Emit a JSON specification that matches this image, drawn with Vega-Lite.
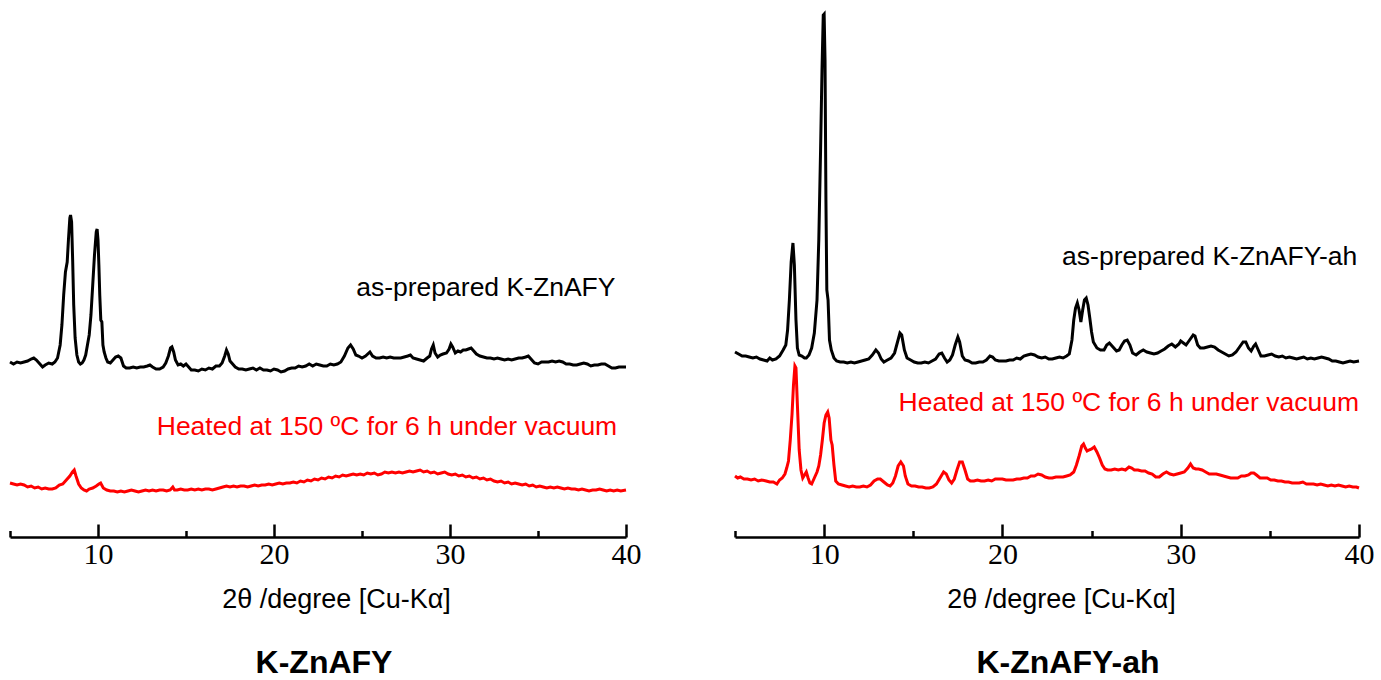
{
"$schema": "https://vega.github.io/schema/vega-lite/v6.json",
"padding": {"left": 4, "top": 7, "right": 0, "bottom": 0},
"background": "white",
"bounds": "flush",
"spacing": 109,
"config": {"view": {"stroke": null}},
"datasets": {
"LB": [{"x":5.0,"y":175},{"x":5.2,"y":173},{"x":5.4,"y":175},{"x":5.6,"y":174},{"x":5.8,"y":175},{"x":6.0,"y":176},{"x":6.2,"y":178},{"x":6.35,"y":179},{"x":6.5,"y":177},{"x":6.7,"y":173},{"x":6.85,"y":170},{"x":7.0,"y":172},{"x":7.2,"y":174},{"x":7.4,"y":173},{"x":7.55,"y":175},{"x":7.7,"y":179},{"x":7.85,"y":192},{"x":7.95,"y":212},{"x":8.05,"y":242},{"x":8.15,"y":265},{"x":8.25,"y":275},{"x":8.32,"y":297},{"x":8.4,"y":319},{"x":8.44,"y":322},{"x":8.5,"y":315},{"x":8.56,"y":277},{"x":8.62,"y":232},{"x":8.7,"y":199},{"x":8.8,"y":182},{"x":8.9,"y":175},{"x":9.0,"y":173},{"x":9.1,"y":174},{"x":9.2,"y":177},{"x":9.3,"y":182},{"x":9.4,"y":192},{"x":9.5,"y":202},{"x":9.6,"y":222},{"x":9.7,"y":252},{"x":9.8,"y":282},{"x":9.9,"y":305},{"x":9.95,"y":308},{"x":10.0,"y":297},{"x":10.05,"y":272},{"x":10.1,"y":242},{"x":10.16,"y":217},{"x":10.22,"y":215},{"x":10.28,"y":192},{"x":10.35,"y":185},{"x":10.45,"y":179},{"x":10.55,"y":175},{"x":10.7,"y":174},{"x":10.85,"y":177},{"x":11.0,"y":180},{"x":11.15,"y":181},{"x":11.3,"y":179},{"x":11.45,"y":171},{"x":11.6,"y":169},{"x":11.8,"y":169},{"x":12.0,"y":170},{"x":12.2,"y":169},{"x":12.4,"y":170},{"x":12.6,"y":170},{"x":12.8,"y":171},{"x":12.95,"y":172},{"x":13.1,"y":170},{"x":13.3,"y":168},{"x":13.5,"y":168},{"x":13.7,"y":170},{"x":13.85,"y":174},{"x":14.0,"y":181},{"x":14.12,"y":189},{"x":14.2,"y":190},{"x":14.3,"y":185},{"x":14.4,"y":177},{"x":14.55,"y":172},{"x":14.7,"y":173},{"x":14.85,"y":171},{"x":15.0,"y":173},{"x":15.15,"y":170},{"x":15.3,"y":167},{"x":15.5,"y":167},{"x":15.7,"y":166},{"x":15.9,"y":168},{"x":16.1,"y":167},{"x":16.3,"y":169},{"x":16.5,"y":168},{"x":16.7,"y":171},{"x":16.9,"y":171},{"x":17.05,"y":174},{"x":17.2,"y":181},{"x":17.3,"y":187},{"x":17.4,"y":183},{"x":17.5,"y":176},{"x":17.65,"y":173},{"x":17.8,"y":170},{"x":18.0,"y":168},{"x":18.2,"y":168},{"x":18.4,"y":167},{"x":18.6,"y":168},{"x":18.8,"y":169},{"x":19.0,"y":167},{"x":19.2,"y":169},{"x":19.4,"y":167},{"x":19.6,"y":167},{"x":19.8,"y":166},{"x":20.0,"y":168},{"x":20.2,"y":167},{"x":20.4,"y":165},{"x":20.6,"y":166},{"x":20.8,"y":168},{"x":21.0,"y":169},{"x":21.2,"y":169},{"x":21.4,"y":171},{"x":21.6,"y":170},{"x":21.8,"y":171},{"x":22.0,"y":173},{"x":22.2,"y":171},{"x":22.4,"y":173},{"x":22.6,"y":172},{"x":22.8,"y":171},{"x":23.0,"y":171},{"x":23.2,"y":173},{"x":23.4,"y":172},{"x":23.6,"y":173},{"x":23.8,"y":175},{"x":24.0,"y":181},{"x":24.2,"y":189},{"x":24.35,"y":192},{"x":24.5,"y":188},{"x":24.65,"y":182},{"x":24.8,"y":181},{"x":25.0,"y":179},{"x":25.2,"y":181},{"x":25.45,"y":185},{"x":25.6,"y":181},{"x":25.8,"y":179},{"x":26.0,"y":179},{"x":26.2,"y":180},{"x":26.4,"y":179},{"x":26.6,"y":180},{"x":26.8,"y":179},{"x":27.0,"y":179},{"x":27.2,"y":179},{"x":27.4,"y":180},{"x":27.6,"y":181},{"x":27.75,"y":182},{"x":27.9,"y":179},{"x":28.1,"y":178},{"x":28.3,"y":177},{"x":28.5,"y":176},{"x":28.7,"y":179},{"x":28.85,"y":181},{"x":28.95,"y":188},{"x":29.05,"y":192},{"x":29.15,"y":184},{"x":29.3,"y":180},{"x":29.45,"y":182},{"x":29.6,"y":183},{"x":29.8,"y":184},{"x":29.95,"y":188},{"x":30.05,"y":193},{"x":30.15,"y":190},{"x":30.3,"y":184},{"x":30.45,"y":186},{"x":30.6,"y":185},{"x":30.75,"y":187},{"x":30.9,"y":187},{"x":31.05,"y":188},{"x":31.2,"y":189},{"x":31.35,"y":186},{"x":31.5,"y":183},{"x":31.7,"y":181},{"x":31.9,"y":180},{"x":32.1,"y":179},{"x":32.3,"y":179},{"x":32.5,"y":178},{"x":32.7,"y":179},{"x":32.9,"y":178},{"x":33.1,"y":177},{"x":33.3,"y":178},{"x":33.5,"y":177},{"x":33.7,"y":178},{"x":33.9,"y":179},{"x":34.1,"y":179},{"x":34.3,"y":180},{"x":34.45,"y":181},{"x":34.6,"y":178},{"x":34.8,"y":174},{"x":35.0,"y":173},{"x":35.2,"y":175},{"x":35.4,"y":175},{"x":35.6,"y":175},{"x":35.8,"y":176},{"x":36.0,"y":175},{"x":36.2,"y":176},{"x":36.4,"y":175},{"x":36.6,"y":173},{"x":36.8,"y":173},{"x":37.0,"y":172},{"x":37.2,"y":172},{"x":37.4,"y":173},{"x":37.6,"y":174},{"x":37.8,"y":173},{"x":38.0,"y":171},{"x":38.2,"y":172},{"x":38.4,"y":172},{"x":38.6,"y":173},{"x":38.8,"y":173},{"x":39.0,"y":171},{"x":39.2,"y":169},{"x":39.4,"y":169},{"x":39.6,"y":170},{"x":39.8,"y":170},{"x":40.0,"y":170}],
"LR": [{"x":5.0,"y":54},{"x":5.2,"y":53},{"x":5.4,"y":52},{"x":5.6,"y":53},{"x":5.8,"y":52},{"x":6.0,"y":50},{"x":6.2,"y":51},{"x":6.4,"y":49},{"x":6.6,"y":50},{"x":6.8,"y":48},{"x":7.0,"y":49},{"x":7.2,"y":48},{"x":7.4,"y":48},{"x":7.6,"y":49},{"x":7.8,"y":52},{"x":8.0,"y":53},{"x":8.2,"y":57},{"x":8.4,"y":61},{"x":8.55,"y":65},{"x":8.65,"y":67},{"x":8.75,"y":61},{"x":8.9,"y":53},{"x":9.05,"y":49},{"x":9.2,"y":47},{"x":9.35,"y":46},{"x":9.5,"y":48},{"x":9.7,"y":49},{"x":9.9,"y":51},{"x":10.05,"y":53},{"x":10.15,"y":54},{"x":10.3,"y":49},{"x":10.5,"y":47},{"x":10.7,"y":46},{"x":10.9,"y":46},{"x":11.1,"y":45},{"x":11.3,"y":46},{"x":11.5,"y":45},{"x":11.7,"y":46},{"x":11.9,"y":47},{"x":12.1,"y":46},{"x":12.3,"y":45},{"x":12.5,"y":46},{"x":12.7,"y":47},{"x":12.9,"y":46},{"x":13.1,"y":47},{"x":13.3,"y":46},{"x":13.5,"y":47},{"x":13.7,"y":47},{"x":13.9,"y":46},{"x":14.1,"y":47},{"x":14.25,"y":50},{"x":14.35,"y":47},{"x":14.5,"y":47},{"x":14.7,"y":48},{"x":14.9,"y":47},{"x":15.1,"y":47},{"x":15.3,"y":48},{"x":15.5,"y":47},{"x":15.7,"y":48},{"x":15.9,"y":47},{"x":16.1,"y":48},{"x":16.3,"y":48},{"x":16.5,"y":47},{"x":16.7,"y":48},{"x":16.9,"y":49},{"x":17.1,"y":50},{"x":17.3,"y":51},{"x":17.5,"y":50},{"x":17.7,"y":51},{"x":17.9,"y":50},{"x":18.1,"y":51},{"x":18.3,"y":51},{"x":18.5,"y":50},{"x":18.7,"y":51},{"x":18.9,"y":52},{"x":19.1,"y":51},{"x":19.3,"y":52},{"x":19.5,"y":52},{"x":19.7,"y":53},{"x":19.9,"y":52},{"x":20.1,"y":53},{"x":20.3,"y":54},{"x":20.5,"y":53},{"x":20.7,"y":54},{"x":20.9,"y":54},{"x":21.1,"y":55},{"x":21.3,"y":54},{"x":21.5,"y":56},{"x":21.7,"y":55},{"x":21.9,"y":57},{"x":22.1,"y":56},{"x":22.3,"y":58},{"x":22.5,"y":57},{"x":22.7,"y":59},{"x":22.9,"y":58},{"x":23.1,"y":60},{"x":23.3,"y":59},{"x":23.5,"y":61},{"x":23.7,"y":60},{"x":23.9,"y":62},{"x":24.1,"y":61},{"x":24.3,"y":62},{"x":24.5,"y":63},{"x":24.7,"y":62},{"x":24.9,"y":63},{"x":25.1,"y":62},{"x":25.3,"y":64},{"x":25.5,"y":63},{"x":25.7,"y":64},{"x":25.9,"y":62},{"x":26.1,"y":63},{"x":26.3,"y":65},{"x":26.5,"y":64},{"x":26.7,"y":65},{"x":26.9,"y":64},{"x":27.1,"y":65},{"x":27.3,"y":64},{"x":27.5,"y":65},{"x":27.7,"y":66},{"x":27.9,"y":65},{"x":28.1,"y":66},{"x":28.3,"y":67},{"x":28.5,"y":65},{"x":28.7,"y":66},{"x":28.9,"y":64},{"x":29.1,"y":65},{"x":29.3,"y":63},{"x":29.5,"y":64},{"x":29.7,"y":65},{"x":29.9,"y":63},{"x":30.1,"y":62},{"x":30.3,"y":63},{"x":30.5,"y":61},{"x":30.7,"y":62},{"x":30.9,"y":60},{"x":31.1,"y":61},{"x":31.3,"y":59},{"x":31.5,"y":60},{"x":31.7,"y":58},{"x":31.9,"y":59},{"x":32.1,"y":57},{"x":32.3,"y":58},{"x":32.5,"y":56},{"x":32.7,"y":55},{"x":32.9,"y":56},{"x":33.1,"y":54},{"x":33.3,"y":55},{"x":33.5,"y":53},{"x":33.7,"y":54},{"x":33.9,"y":53},{"x":34.1,"y":52},{"x":34.3,"y":53},{"x":34.5,"y":51},{"x":34.7,"y":52},{"x":34.9,"y":50},{"x":35.1,"y":51},{"x":35.3,"y":50},{"x":35.5,"y":49},{"x":35.7,"y":50},{"x":35.9,"y":49},{"x":36.1,"y":50},{"x":36.3,"y":49},{"x":36.5,"y":48},{"x":36.7,"y":49},{"x":36.9,"y":48},{"x":37.1,"y":48},{"x":37.3,"y":47},{"x":37.5,"y":48},{"x":37.7,"y":47},{"x":37.9,"y":46},{"x":38.1,"y":47},{"x":38.3,"y":47},{"x":38.5,"y":48},{"x":38.7,"y":47},{"x":38.9,"y":46},{"x":39.1,"y":47},{"x":39.3,"y":46},{"x":39.5,"y":47},{"x":39.7,"y":46},{"x":40.0,"y":47}],
"RB": [{"x":5.0,"y":185},{"x":5.2,"y":183},{"x":5.4,"y":181},{"x":5.6,"y":181},{"x":5.8,"y":180},{"x":6.0,"y":179},{"x":6.2,"y":180},{"x":6.4,"y":178},{"x":6.6,"y":177},{"x":6.8,"y":176},{"x":6.95,"y":179},{"x":7.1,"y":177},{"x":7.3,"y":178},{"x":7.5,"y":181},{"x":7.7,"y":187},{"x":7.85,"y":192},{"x":7.95,"y":207},{"x":8.05,"y":237},{"x":8.15,"y":275},{"x":8.25,"y":294},{"x":8.33,"y":272},{"x":8.42,"y":217},{"x":8.5,"y":189},{"x":8.6,"y":182},{"x":8.75,"y":181},{"x":8.9,"y":179},{"x":9.0,"y":179},{"x":9.15,"y":182},{"x":9.3,"y":189},{"x":9.45,"y":204},{"x":9.6,"y":237},{"x":9.7,"y":297},{"x":9.8,"y":387},{"x":9.88,"y":467},{"x":9.95,"y":522},{"x":10.0,"y":523},{"x":10.05,"y":477},{"x":10.1,"y":337},{"x":10.15,"y":247},{"x":10.22,"y":237},{"x":10.3,"y":197},{"x":10.4,"y":187},{"x":10.55,"y":179},{"x":10.7,"y":176},{"x":10.9,"y":175},{"x":11.1,"y":175},{"x":11.3,"y":174},{"x":11.5,"y":175},{"x":11.7,"y":174},{"x":11.9,"y":175},{"x":12.1,"y":176},{"x":12.3,"y":177},{"x":12.5,"y":178},{"x":12.7,"y":182},{"x":12.9,"y":187},{"x":13.05,"y":184},{"x":13.2,"y":178},{"x":13.35,"y":175},{"x":13.55,"y":177},{"x":13.75,"y":179},{"x":13.95,"y":184},{"x":14.1,"y":194},{"x":14.25,"y":204},{"x":14.35,"y":202},{"x":14.5,"y":187},{"x":14.65,"y":179},{"x":14.85,"y":177},{"x":15.05,"y":175},{"x":15.25,"y":174},{"x":15.45,"y":174},{"x":15.65,"y":175},{"x":15.85,"y":174},{"x":16.05,"y":176},{"x":16.25,"y":178},{"x":16.45,"y":183},{"x":16.6,"y":184},{"x":16.75,"y":179},{"x":16.9,"y":175},{"x":17.05,"y":177},{"x":17.2,"y":182},{"x":17.35,"y":192},{"x":17.5,"y":200},{"x":17.6,"y":195},{"x":17.75,"y":181},{"x":17.9,"y":177},{"x":18.1,"y":176},{"x":18.3,"y":174},{"x":18.5,"y":174},{"x":18.7,"y":175},{"x":18.9,"y":175},{"x":19.1,"y":177},{"x":19.3,"y":181},{"x":19.45,"y":180},{"x":19.6,"y":177},{"x":19.8,"y":176},{"x":20.0,"y":176},{"x":20.2,"y":176},{"x":20.4,"y":177},{"x":20.6,"y":177},{"x":20.8,"y":179},{"x":21.0,"y":178},{"x":21.2,"y":181},{"x":21.4,"y":182},{"x":21.6,"y":183},{"x":21.8,"y":182},{"x":22.0,"y":180},{"x":22.2,"y":179},{"x":22.4,"y":180},{"x":22.6,"y":178},{"x":22.8,"y":178},{"x":23.0,"y":179},{"x":23.2,"y":180},{"x":23.4,"y":179},{"x":23.6,"y":181},{"x":23.75,"y":183},{"x":23.9,"y":197},{"x":24.0,"y":217},{"x":24.1,"y":229},{"x":24.2,"y":234},{"x":24.3,"y":227},{"x":24.4,"y":215},{"x":24.5,"y":227},{"x":24.6,"y":237},{"x":24.7,"y":239},{"x":24.8,"y":232},{"x":24.9,"y":219},{"x":25.0,"y":205},{"x":25.1,"y":195},{"x":25.3,"y":189},{"x":25.5,"y":187},{"x":25.7,"y":187},{"x":25.85,"y":192},{"x":26.0,"y":194},{"x":26.2,"y":190},{"x":26.4,"y":186},{"x":26.55,"y":187},{"x":26.7,"y":192},{"x":26.85,"y":196},{"x":27.0,"y":197},{"x":27.15,"y":192},{"x":27.3,"y":184},{"x":27.5,"y":182},{"x":27.7,"y":185},{"x":27.9,"y":187},{"x":28.1,"y":185},{"x":28.3,"y":184},{"x":28.5,"y":183},{"x":28.7,"y":184},{"x":28.9,"y":186},{"x":29.1,"y":188},{"x":29.3,"y":191},{"x":29.5,"y":193},{"x":29.7,"y":190},{"x":29.9,"y":193},{"x":30.0,"y":196},{"x":30.15,"y":194},{"x":30.3,"y":192},{"x":30.5,"y":197},{"x":30.7,"y":202},{"x":30.8,"y":201},{"x":30.95,"y":192},{"x":31.1,"y":189},{"x":31.3,"y":189},{"x":31.5,"y":190},{"x":31.7,"y":191},{"x":31.9,"y":190},{"x":32.1,"y":187},{"x":32.3,"y":185},{"x":32.5,"y":183},{"x":32.7,"y":181},{"x":32.9,"y":182},{"x":33.1,"y":185},{"x":33.3,"y":190},{"x":33.5,"y":195},{"x":33.65,"y":195},{"x":33.8,"y":189},{"x":33.95,"y":186},{"x":34.1,"y":191},{"x":34.2,"y":193},{"x":34.35,"y":187},{"x":34.5,"y":181},{"x":34.7,"y":181},{"x":34.9,"y":182},{"x":35.1,"y":183},{"x":35.3,"y":181},{"x":35.5,"y":180},{"x":35.7,"y":181},{"x":35.9,"y":179},{"x":36.1,"y":180},{"x":36.3,"y":179},{"x":36.5,"y":178},{"x":36.7,"y":179},{"x":36.9,"y":180},{"x":37.1,"y":178},{"x":37.3,"y":179},{"x":37.5,"y":178},{"x":37.7,"y":179},{"x":37.9,"y":180},{"x":38.1,"y":179},{"x":38.3,"y":178},{"x":38.5,"y":176},{"x":38.7,"y":176},{"x":38.9,"y":175},{"x":39.1,"y":174},{"x":39.3,"y":175},{"x":39.5,"y":176},{"x":39.7,"y":175},{"x":40.0,"y":176}],
"RR": [{"x":5.0,"y":61},{"x":5.15,"y":59},{"x":5.3,"y":60},{"x":5.5,"y":58},{"x":5.7,"y":58},{"x":5.9,"y":57},{"x":6.1,"y":58},{"x":6.3,"y":56},{"x":6.5,"y":57},{"x":6.75,"y":56},{"x":6.95,"y":55},{"x":7.15,"y":55},{"x":7.35,"y":53},{"x":7.5,"y":57},{"x":7.65,"y":59},{"x":7.8,"y":63},{"x":7.9,"y":69},{"x":8.0,"y":76},{"x":8.1,"y":97},{"x":8.2,"y":123},{"x":8.28,"y":152},{"x":8.36,"y":171},{"x":8.42,"y":169},{"x":8.5,"y":132},{"x":8.6,"y":87},{"x":8.7,"y":67},{"x":8.8,"y":59},{"x":8.9,"y":62},{"x":9.0,"y":65},{"x":9.1,"y":59},{"x":9.2,"y":54},{"x":9.3,"y":53},{"x":9.45,"y":59},{"x":9.6,"y":65},{"x":9.7,"y":71},{"x":9.8,"y":82},{"x":9.9,"y":97},{"x":10.0,"y":114},{"x":10.1,"y":122},{"x":10.2,"y":125},{"x":10.28,"y":119},{"x":10.38,"y":97},{"x":10.45,"y":92},{"x":10.55,"y":72},{"x":10.65,"y":56},{"x":10.8,"y":53},{"x":11.0,"y":52},{"x":11.2,"y":51},{"x":11.4,"y":50},{"x":11.6,"y":51},{"x":11.8,"y":50},{"x":12.0,"y":50},{"x":12.2,"y":51},{"x":12.4,"y":50},{"x":12.6,"y":52},{"x":12.8,"y":56},{"x":13.0,"y":58},{"x":13.15,"y":58},{"x":13.35,"y":55},{"x":13.55,"y":52},{"x":13.7,"y":51},{"x":13.85,"y":54},{"x":14.0,"y":61},{"x":14.15,"y":71},{"x":14.3,"y":75},{"x":14.45,"y":71},{"x":14.55,"y":61},{"x":14.7,"y":53},{"x":14.9,"y":51},{"x":15.1,"y":51},{"x":15.3,"y":50},{"x":15.5,"y":50},{"x":15.7,"y":49},{"x":15.9,"y":49},{"x":16.1,"y":50},{"x":16.3,"y":53},{"x":16.5,"y":59},{"x":16.7,"y":65},{"x":16.85,"y":63},{"x":17.0,"y":57},{"x":17.15,"y":54},{"x":17.3,"y":58},{"x":17.45,"y":67},{"x":17.6,"y":75},{"x":17.75,"y":75},{"x":17.9,"y":67},{"x":18.05,"y":58},{"x":18.2,"y":56},{"x":18.4,"y":56},{"x":18.6,"y":57},{"x":18.8,"y":56},{"x":19.0,"y":56},{"x":19.2,"y":57},{"x":19.4,"y":56},{"x":19.6,"y":58},{"x":19.8,"y":58},{"x":20.0,"y":58},{"x":20.2,"y":57},{"x":20.4,"y":57},{"x":20.6,"y":57},{"x":20.8,"y":58},{"x":21.0,"y":58},{"x":21.2,"y":59},{"x":21.4,"y":59},{"x":21.6,"y":61},{"x":21.8,"y":61},{"x":22.0,"y":63},{"x":22.2,"y":62},{"x":22.4,"y":60},{"x":22.6,"y":59},{"x":22.8,"y":59},{"x":23.0,"y":60},{"x":23.2,"y":60},{"x":23.4,"y":60},{"x":23.6,"y":61},{"x":23.8,"y":62},{"x":24.0,"y":65},{"x":24.15,"y":72},{"x":24.3,"y":81},{"x":24.45,"y":91},{"x":24.55,"y":93},{"x":24.65,"y":89},{"x":24.75,"y":86},{"x":24.85,"y":87},{"x":25.0,"y":88},{"x":25.15,"y":90},{"x":25.3,"y":85},{"x":25.45,"y":79},{"x":25.6,"y":72},{"x":25.75,"y":68},{"x":25.9,"y":67},{"x":26.1,"y":67},{"x":26.3,"y":68},{"x":26.5,"y":67},{"x":26.7,"y":68},{"x":26.9,"y":67},{"x":27.1,"y":70},{"x":27.25,"y":69},{"x":27.4,"y":67},{"x":27.6,"y":67},{"x":27.8,"y":66},{"x":28.0,"y":66},{"x":28.2,"y":64},{"x":28.4,"y":63},{"x":28.6,"y":60},{"x":28.8,"y":60},{"x":29.0,"y":63},{"x":29.2,"y":65},{"x":29.4,"y":63},{"x":29.6,"y":62},{"x":29.8,"y":63},{"x":30.0,"y":64},{"x":30.2,"y":65},{"x":30.4,"y":69},{"x":30.55,"y":73},{"x":30.7,"y":69},{"x":30.85,"y":68},{"x":31.0,"y":68},{"x":31.2,"y":67},{"x":31.4,"y":65},{"x":31.6,"y":63},{"x":31.8,"y":63},{"x":32.0,"y":63},{"x":32.2,"y":62},{"x":32.4,"y":61},{"x":32.6,"y":60},{"x":32.8,"y":59},{"x":33.0,"y":59},{"x":33.2,"y":59},{"x":33.4,"y":61},{"x":33.6,"y":61},{"x":33.8,"y":62},{"x":33.95,"y":64},{"x":34.1,"y":64},{"x":34.25,"y":62},{"x":34.45,"y":59},{"x":34.65,"y":59},{"x":34.85,"y":59},{"x":35.05,"y":57},{"x":35.25,"y":57},{"x":35.45,"y":56},{"x":35.65,"y":56},{"x":35.85,"y":55},{"x":36.05,"y":55},{"x":36.25,"y":54},{"x":36.45,"y":54},{"x":36.65,"y":54},{"x":36.85,"y":55},{"x":37.05,"y":53},{"x":37.25,"y":53},{"x":37.45,"y":53},{"x":37.65,"y":52},{"x":37.85,"y":53},{"x":38.05,"y":52},{"x":38.25,"y":51},{"x":38.45,"y":52},{"x":38.65,"y":51},{"x":38.85,"y":52},{"x":39.05,"y":51},{"x":39.25,"y":50},{"x":39.45,"y":51},{"x":39.65,"y":50},{"x":39.85,"y":50},{"x":40.0,"y":49}]
},
"hconcat": [
{
"width": 616, "height": 530,
"title": {"text": "K-ZnAFY", "orient": "bottom", "anchor": "middle", "dx": 6, "offset": 36, "font": "Liberation Sans", "fontSize": 32, "fontWeight": "bold", "color": "black"},
"encoding": {
"x": {"field": "x", "type": "quantitative", "scale": {"domain": [5, 40], "nice": false, "zero": false},
"axis": {"values": [5,10,15,20,25,30,35,40], "tickSize": {"condition": {"test": "datum.value % 10 === 0", "value": -13}, "value": -6.5}, "labelExpr": "datum.value % 10 === 0 ? datum.label : ''", "grid": false, "domainColor": "black", "domainWidth": 2.5, "tickColor": "black", "tickWidth": 2.5, "labelFont": "Liberation Serif, DejaVu Serif, serif", "labelFontSize": 30, "labelColor": "black", "labelPadding": 15, "labelFlush": false, "labelOverlap": false, "title": "2θ /degree [Cu-Kα]", "titleFont": "Liberation Sans", "titleFontSize": 27, "titleFontWeight": "normal", "titleColor": "black", "titleX": 326, "titleY": 70, "titleBaseline": "alphabetic"}},
"y": {"field": "y", "type": "quantitative", "scale": {"domain": [0, 530], "nice": false, "zero": false}, "axis": null}
},
"layer": [
{"data": {"name": "LB"}, "mark": {"type": "line", "color": "black", "strokeWidth": 3}},
{"data": {"name": "LR"}, "mark": {"type": "line", "color": "#ff0000", "strokeWidth": 3}},
{"data": {"values": [{"x": 39.4, "y": 249, "t": "as-prepared K-ZnAFY"}]}, "mark": {"type": "text", "align": "right", "baseline": "middle", "font": "Liberation Sans", "fontSize": 26.5, "color": "black"}, "encoding": {"text": {"field": "t"}}},
{"data": {"values": [{"x": 39.5, "y": 110, "t": "Heated at 150 ºC for 6 h under vacuum"}]}, "mark": {"type": "text", "align": "right", "baseline": "middle", "font": "Liberation Sans", "fontSize": 26.5, "color": "#ff0000"}, "encoding": {"text": {"field": "t"}}}
]
},
{
"width": 624, "height": 530,
"title": {"text": "K-ZnAFY-ah", "orient": "bottom", "anchor": "middle", "dx": 21, "offset": 36, "font": "Liberation Sans", "fontSize": 32, "fontWeight": "bold", "color": "black"},
"encoding": {
"x": {"field": "x", "type": "quantitative", "scale": {"domain": [5, 40], "nice": false, "zero": false},
"axis": {"values": [5,10,15,20,25,30,35,40], "tickSize": {"condition": {"test": "datum.value % 10 === 0", "value": -13}, "value": -6.5}, "labelExpr": "datum.value % 10 === 0 ? datum.label : ''", "grid": false, "domainColor": "black", "domainWidth": 2.5, "tickColor": "black", "tickWidth": 2.5, "labelFont": "Liberation Serif, DejaVu Serif, serif", "labelFontSize": 30, "labelColor": "black", "labelPadding": 15, "labelFlush": false, "labelOverlap": false, "title": "2θ /degree [Cu-Kα]", "titleFont": "Liberation Sans", "titleFontSize": 27, "titleFontWeight": "normal", "titleColor": "black", "titleX": 326, "titleY": 70, "titleBaseline": "alphabetic"}},
"y": {"field": "y", "type": "quantitative", "scale": {"domain": [0, 530], "nice": false, "zero": false}, "axis": null}
},
"layer": [
{"data": {"name": "RB"}, "mark": {"type": "line", "color": "black", "strokeWidth": 3}},
{"data": {"name": "RR"}, "mark": {"type": "line", "color": "#ff0000", "strokeWidth": 3}},
{"data": {"values": [{"x": 39.9, "y": 280, "t": "as-prepared K-ZnAFY-ah"}]}, "mark": {"type": "text", "align": "right", "baseline": "middle", "font": "Liberation Sans", "fontSize": 26.5, "color": "black"}, "encoding": {"text": {"field": "t"}}},
{"data": {"values": [{"x": 40.0, "y": 134, "t": "Heated at 150 ºC for 6 h under vacuum"}]}, "mark": {"type": "text", "align": "right", "baseline": "middle", "font": "Liberation Sans", "fontSize": 26.5, "color": "#ff0000"}, "encoding": {"text": {"field": "t"}}}
]
}
]
}
